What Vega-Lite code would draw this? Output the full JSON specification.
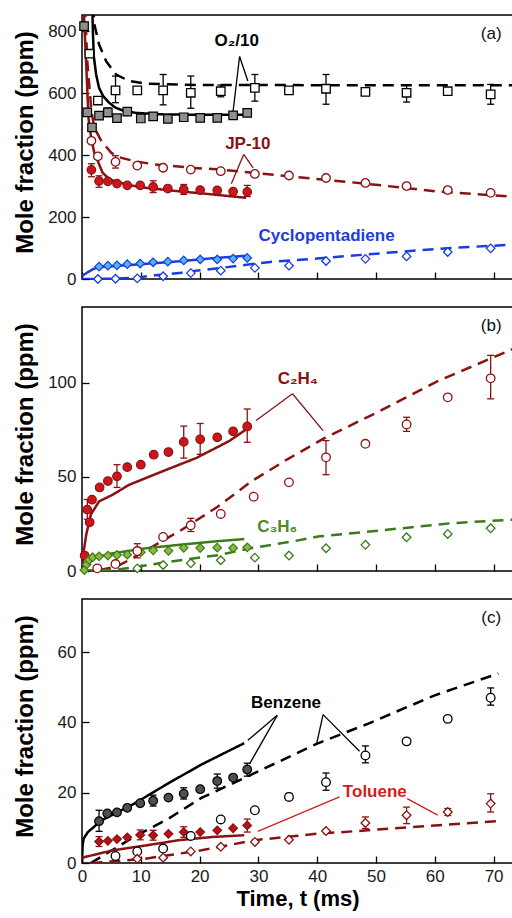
{
"$schema":"https://vega.github.io/schema/vega-lite/v6.json",
"background":"white",
"padding":{"left":12,"top":14,"right":0,"bottom":5},
"spacing":28,
"bounds":"flush",
"datasets":{
"aPts":[
{"sp":"O2","run":"A","t":0.35,"v":816},{"sp":"O2","run":"A","t":0.9,"v":538},{"sp":"O2","run":"A","t":1.7,"v":489},{"sp":"O2","run":"A","t":2.9,"v":527},{"sp":"O2","run":"A","t":4.4,"v":538,"lo":524,"hi":552},{"sp":"O2","run":"A","t":5.95,"v":519},{"sp":"O2","run":"A","t":7.7,"v":540,"lo":528,"hi":552},{"sp":"O2","run":"A","t":10,"v":518},{"sp":"O2","run":"A","t":12.1,"v":525},{"sp":"O2","run":"A","t":14.6,"v":517},{"sp":"O2","run":"A","t":17.3,"v":522},{"sp":"O2","run":"A","t":20.1,"v":520},{"sp":"O2","run":"A","t":23,"v":520},{"sp":"O2","run":"A","t":25.7,"v":528},{"sp":"O2","run":"A","t":28.1,"v":536,"lo":528,"hi":546},
{"sp":"O2","run":"B","t":1.25,"v":727},{"sp":"O2","run":"B","t":2.7,"v":576},{"sp":"O2","run":"B","t":5.7,"v":609,"lo":569,"hi":655},{"sp":"O2","run":"B","t":9.4,"v":609},{"sp":"O2","run":"B","t":13.8,"v":609,"lo":562,"hi":660},{"sp":"O2","run":"B","t":18.5,"v":601,"lo":551,"hi":655},{"sp":"O2","run":"B","t":23.6,"v":606,"lo":588,"hi":626},{"sp":"O2","run":"B","t":29.4,"v":617,"lo":574,"hi":660},{"sp":"O2","run":"B","t":35.2,"v":609},{"sp":"O2","run":"B","t":41.5,"v":614,"lo":564,"hi":660},{"sp":"O2","run":"B","t":48.2,"v":604},{"sp":"O2","run":"B","t":55.2,"v":601,"lo":571,"hi":626},{"sp":"O2","run":"B","t":62.2,"v":606},{"sp":"O2","run":"B","t":69.5,"v":596,"lo":564,"hi":628},
{"sp":"JP10","run":"A","t":1.6,"v":352,"lo":330,"hi":372},{"sp":"JP10","run":"A","t":2.9,"v":316,"lo":296,"hi":333},{"sp":"JP10","run":"A","t":4.4,"v":315},{"sp":"JP10","run":"A","t":5.95,"v":308},{"sp":"JP10","run":"A","t":7.7,"v":302},{"sp":"JP10","run":"A","t":9.9,"v":302},{"sp":"JP10","run":"A","t":12.1,"v":297,"lo":279,"hi":317},{"sp":"JP10","run":"A","t":14.6,"v":292},{"sp":"JP10","run":"A","t":17.3,"v":289,"lo":273,"hi":305},{"sp":"JP10","run":"A","t":20.1,"v":287},{"sp":"JP10","run":"A","t":23,"v":286},{"sp":"JP10","run":"A","t":25.7,"v":282},{"sp":"JP10","run":"A","t":28.1,"v":281,"lo":266,"hi":302},
{"sp":"JP10","run":"B","t":1.6,"v":446},{"sp":"JP10","run":"B","t":2.7,"v":396},{"sp":"JP10","run":"B","t":5.7,"v":378,"lo":358,"hi":398},{"sp":"JP10","run":"B","t":9.4,"v":366},{"sp":"JP10","run":"B","t":13.8,"v":359},{"sp":"JP10","run":"B","t":18.5,"v":353},{"sp":"JP10","run":"B","t":23.6,"v":348},{"sp":"JP10","run":"B","t":29.4,"v":339},{"sp":"JP10","run":"B","t":35.2,"v":334},{"sp":"JP10","run":"B","t":41.5,"v":326},{"sp":"JP10","run":"B","t":48.2,"v":310},{"sp":"JP10","run":"B","t":55.2,"v":300},{"sp":"JP10","run":"B","t":62.2,"v":287,"lo":279,"hi":296},{"sp":"JP10","run":"B","t":69.5,"v":278},
{"sp":"CPD","run":"A","t":2.9,"v":40},{"sp":"CPD","run":"A","t":4.4,"v":43},{"sp":"CPD","run":"A","t":5.95,"v":44},{"sp":"CPD","run":"A","t":7.7,"v":48},{"sp":"CPD","run":"A","t":9.9,"v":50},{"sp":"CPD","run":"A","t":12.1,"v":54},{"sp":"CPD","run":"A","t":14.6,"v":56},{"sp":"CPD","run":"A","t":17.3,"v":60},{"sp":"CPD","run":"A","t":20.1,"v":63},{"sp":"CPD","run":"A","t":23,"v":63},{"sp":"CPD","run":"A","t":25.7,"v":66},{"sp":"CPD","run":"A","t":28.1,"v":68},
{"sp":"CPD","run":"B","t":2.7,"v":0},{"sp":"CPD","run":"B","t":5.7,"v":1},{"sp":"CPD","run":"B","t":9.4,"v":2},{"sp":"CPD","run":"B","t":13.8,"v":9},{"sp":"CPD","run":"B","t":18.5,"v":19},{"sp":"CPD","run":"B","t":23.6,"v":27},{"sp":"CPD","run":"B","t":29.4,"v":36},{"sp":"CPD","run":"B","t":35.2,"v":43},{"sp":"CPD","run":"B","t":41.5,"v":58},{"sp":"CPD","run":"B","t":48.2,"v":65},{"sp":"CPD","run":"B","t":55.2,"v":73},{"sp":"CPD","run":"B","t":62.2,"v":87},{"sp":"CPD","run":"B","t":69.5,"v":99}
],
"aLines":[
{"sp":"O2","run":"A","t":1.75,"v":880},{"sp":"O2","run":"A","t":1.85,"v":800},{"sp":"O2","run":"A","t":2.0,"v":720},{"sp":"O2","run":"A","t":2.4,"v":660},{"sp":"O2","run":"A","t":2.9,"v":617},{"sp":"O2","run":"A","t":3.6,"v":590},{"sp":"O2","run":"A","t":4.6,"v":569},{"sp":"O2","run":"A","t":5.7,"v":553},{"sp":"O2","run":"A","t":6.9,"v":544},{"sp":"O2","run":"A","t":9.2,"v":536},{"sp":"O2","run":"A","t":14,"v":531},{"sp":"O2","run":"A","t":20,"v":530},{"sp":"O2","run":"A","t":28.1,"v":530},
{"sp":"O2","run":"B","t":1.9,"v":880},{"sp":"O2","run":"B","t":2.1,"v":822},{"sp":"O2","run":"B","t":2.9,"v":757},{"sp":"O2","run":"B","t":4.1,"v":703},{"sp":"O2","run":"B","t":5.8,"v":660},{"sp":"O2","run":"B","t":8,"v":639},{"sp":"O2","run":"B","t":10.9,"v":630},{"sp":"O2","run":"B","t":20,"v":626},{"sp":"O2","run":"B","t":73.3,"v":625},
{"sp":"JP10","run":"A","t":0.2,"v":900},{"sp":"JP10","run":"A","t":0.4,"v":820},{"sp":"JP10","run":"A","t":0.7,"v":700},{"sp":"JP10","run":"A","t":1.1,"v":520},{"sp":"JP10","run":"A","t":1.6,"v":450},{"sp":"JP10","run":"A","t":2.1,"v":407},{"sp":"JP10","run":"A","t":2.7,"v":380},{"sp":"JP10","run":"A","t":3.5,"v":343},{"sp":"JP10","run":"A","t":4.5,"v":325},{"sp":"JP10","run":"A","t":5.2,"v":318},{"sp":"JP10","run":"A","t":8,"v":303},{"sp":"JP10","run":"A","t":11,"v":294},{"sp":"JP10","run":"A","t":16.5,"v":283},{"sp":"JP10","run":"A","t":22.2,"v":273},{"sp":"JP10","run":"A","t":27.9,"v":262},
{"sp":"JP10","run":"B","t":0.5,"v":880},{"sp":"JP10","run":"B","t":0.9,"v":703},{"sp":"JP10","run":"B","t":1.6,"v":542},{"sp":"JP10","run":"B","t":2.1,"v":488},{"sp":"JP10","run":"B","t":3.3,"v":445},{"sp":"JP10","run":"B","t":5,"v":407},{"sp":"JP10","run":"B","t":6.7,"v":391},{"sp":"JP10","run":"B","t":9,"v":380},{"sp":"JP10","run":"B","t":12.3,"v":370},{"sp":"JP10","run":"B","t":18,"v":360},{"sp":"JP10","run":"B","t":23.6,"v":353},{"sp":"JP10","run":"B","t":35,"v":332},{"sp":"JP10","run":"B","t":48.6,"v":307},{"sp":"JP10","run":"B","t":60,"v":283},{"sp":"JP10","run":"B","t":73.3,"v":266},
{"sp":"CPD","run":"A","t":0,"v":10},{"sp":"CPD","run":"A","t":1,"v":22},{"sp":"CPD","run":"A","t":2,"v":33},{"sp":"CPD","run":"A","t":2.8,"v":38},{"sp":"CPD","run":"A","t":5.2,"v":41},{"sp":"CPD","run":"A","t":10.9,"v":49},{"sp":"CPD","run":"A","t":16.5,"v":57},{"sp":"CPD","run":"A","t":22.2,"v":67},{"sp":"CPD","run":"A","t":27.9,"v":75},
{"sp":"CPD","run":"B","t":0,"v":0},{"sp":"CPD","run":"B","t":5,"v":1},{"sp":"CPD","run":"B","t":9,"v":4},{"sp":"CPD","run":"B","t":12.4,"v":12},{"sp":"CPD","run":"B","t":16.5,"v":19},{"sp":"CPD","run":"B","t":18,"v":24},{"sp":"CPD","run":"B","t":23.3,"v":35},{"sp":"CPD","run":"B","t":28,"v":46},{"sp":"CPD","run":"B","t":32,"v":55},{"sp":"CPD","run":"B","t":40,"v":66},{"sp":"CPD","run":"B","t":51.5,"v":84},{"sp":"CPD","run":"B","t":57,"v":92},{"sp":"CPD","run":"B","t":62.8,"v":100},{"sp":"CPD","run":"B","t":73.3,"v":111}
],
"bPts":[
{"sp":"C2H4","run":"A","t":0.45,"v":8.2},{"sp":"C2H4","run":"A","t":0.9,"v":32.6,"lo":27.5,"hi":38},{"sp":"C2H4","run":"A","t":1.3,"v":25.9},{"sp":"C2H4","run":"A","t":1.7,"v":37.9},{"sp":"C2H4","run":"A","t":3.0,"v":44.4},{"sp":"C2H4","run":"A","t":4.4,"v":47.8},{"sp":"C2H4","run":"A","t":5.95,"v":50.3,"lo":44.4,"hi":56.5},{"sp":"C2H4","run":"A","t":7.7,"v":55.2},{"sp":"C2H4","run":"A","t":10,"v":56.5},{"sp":"C2H4","run":"A","t":12.2,"v":61.8},{"sp":"C2H4","run":"A","t":14.7,"v":63.2},{"sp":"C2H4","run":"A","t":17.3,"v":68.6,"lo":60,"hi":77},{"sp":"C2H4","run":"A","t":20.1,"v":70,"lo":62,"hi":78.4},{"sp":"C2H4","run":"A","t":23,"v":71},{"sp":"C2H4","run":"A","t":25.7,"v":74.2},{"sp":"C2H4","run":"A","t":28.1,"v":76.8,"lo":68.4,"hi":86.1},
{"sp":"C2H4","run":"B","t":2.6,"v":1.4},{"sp":"C2H4","run":"B","t":5.7,"v":3.7},{"sp":"C2H4","run":"B","t":9.4,"v":10.6,"lo":7,"hi":14.5},{"sp":"C2H4","run":"B","t":13.8,"v":18.1},{"sp":"C2H4","run":"B","t":18.5,"v":24.3,"lo":21,"hi":28},{"sp":"C2H4","run":"B","t":23.6,"v":30.3},{"sp":"C2H4","run":"B","t":29.2,"v":39.5},{"sp":"C2H4","run":"B","t":35.2,"v":47.1},{"sp":"C2H4","run":"B","t":41.5,"v":60.4,"lo":51.2,"hi":69.3},{"sp":"C2H4","run":"B","t":48.2,"v":67.6},{"sp":"C2H4","run":"B","t":55.2,"v":77.9,"lo":74.2,"hi":81.7},{"sp":"C2H4","run":"B","t":62.2,"v":92.3},{"sp":"C2H4","run":"B","t":69.5,"v":102.4,"lo":91.5,"hi":114.6},
{"sp":"C3H6","run":"A","t":0.4,"v":0.5},{"sp":"C3H6","run":"A","t":0.8,"v":3.5},{"sp":"C3H6","run":"A","t":1.2,"v":5.9},{"sp":"C3H6","run":"A","t":1.8,"v":7.3},{"sp":"C3H6","run":"A","t":2.9,"v":7.8},{"sp":"C3H6","run":"A","t":4.4,"v":8.2},{"sp":"C3H6","run":"A","t":5.95,"v":8.5},{"sp":"C3H6","run":"A","t":7.7,"v":8.7},{"sp":"C3H6","run":"A","t":10,"v":10},{"sp":"C3H6","run":"A","t":12.1,"v":11},{"sp":"C3H6","run":"A","t":14.7,"v":10.7},{"sp":"C3H6","run":"A","t":17.3,"v":12.3},{"sp":"C3H6","run":"A","t":20.1,"v":12.2},{"sp":"C3H6","run":"A","t":23,"v":12.4},{"sp":"C3H6","run":"A","t":25.7,"v":12.2},{"sp":"C3H6","run":"A","t":28.1,"v":12.6},
{"sp":"C3H6","run":"B","t":9.4,"v":1.4},{"sp":"C3H6","run":"B","t":13.8,"v":3.2},{"sp":"C3H6","run":"B","t":18.5,"v":4.1},{"sp":"C3H6","run":"B","t":23.6,"v":5.7},{"sp":"C3H6","run":"B","t":29.4,"v":7.1},{"sp":"C3H6","run":"B","t":35.2,"v":8.2},{"sp":"C3H6","run":"B","t":41.5,"v":12.1},{"sp":"C3H6","run":"B","t":48.2,"v":13.9},{"sp":"C3H6","run":"B","t":55.2,"v":17.9},{"sp":"C3H6","run":"B","t":62.2,"v":19.7},{"sp":"C3H6","run":"B","t":69.5,"v":22.7}
],
"bLines":[
{"sp":"C2H4","run":"A","t":0,"v":0},{"sp":"C2H4","run":"A","t":0.2,"v":8.5},{"sp":"C2H4","run":"A","t":0.7,"v":19},{"sp":"C2H4","run":"A","t":1.5,"v":30},{"sp":"C2H4","run":"A","t":2.9,"v":37},{"sp":"C2H4","run":"A","t":5.2,"v":40.5},{"sp":"C2H4","run":"A","t":8,"v":45.8},{"sp":"C2H4","run":"A","t":13.7,"v":53},{"sp":"C2H4","run":"A","t":19.4,"v":60},{"sp":"C2H4","run":"A","t":25,"v":69},{"sp":"C2H4","run":"A","t":27.9,"v":75.2},
{"sp":"C2H4","run":"B","t":0,"v":0},{"sp":"C2H4","run":"B","t":3,"v":0.5},{"sp":"C2H4","run":"B","t":6,"v":2.5},{"sp":"C2H4","run":"B","t":8.7,"v":7},{"sp":"C2H4","run":"B","t":12,"v":13},{"sp":"C2H4","run":"B","t":16.9,"v":21.8},{"sp":"C2H4","run":"B","t":23,"v":34},{"sp":"C2H4","run":"B","t":28.8,"v":47.6},{"sp":"C2H4","run":"B","t":35,"v":59.5},{"sp":"C2H4","run":"B","t":41.3,"v":70.7},{"sp":"C2H4","run":"B","t":50,"v":84},{"sp":"C2H4","run":"B","t":60.5,"v":100.9},{"sp":"C2H4","run":"B","t":73.3,"v":118},
{"sp":"C3H6","run":"A","t":0.1,"v":0.5},{"sp":"C3H6","run":"A","t":0.8,"v":3.5},{"sp":"C3H6","run":"A","t":1.8,"v":6.7},{"sp":"C3H6","run":"A","t":5.2,"v":9.4},{"sp":"C3H6","run":"A","t":10.9,"v":12.1},{"sp":"C3H6","run":"A","t":16.5,"v":13.9},{"sp":"C3H6","run":"A","t":22.2,"v":15.6},{"sp":"C3H6","run":"A","t":27.6,"v":17},
{"sp":"C3H6","run":"B","t":0,"v":0},{"sp":"C3H6","run":"B","t":6,"v":0.8},{"sp":"C3H6","run":"B","t":10,"v":2.5},{"sp":"C3H6","run":"B","t":13.1,"v":4.1},{"sp":"C3H6","run":"B","t":18,"v":6.3},{"sp":"C3H6","run":"B","t":23.3,"v":8.5},{"sp":"C3H6","run":"B","t":26,"v":10.3},{"sp":"C3H6","run":"B","t":29.4,"v":12.5},{"sp":"C3H6","run":"B","t":36,"v":15.8},{"sp":"C3H6","run":"B","t":40.1,"v":18.3},{"sp":"C3H6","run":"B","t":51.5,"v":21.8},{"sp":"C3H6","run":"B","t":62.8,"v":25.4},{"sp":"C3H6","run":"B","t":73.3,"v":27.3}
],
"cPts":[
{"sp":"BZ","run":"A","t":2.9,"v":11.9,"lo":9,"hi":15},{"sp":"BZ","run":"A","t":4.3,"v":14.1},{"sp":"BZ","run":"A","t":5.95,"v":14.4},{"sp":"BZ","run":"A","t":7.7,"v":15.7},{"sp":"BZ","run":"A","t":9.9,"v":17},{"sp":"BZ","run":"A","t":12.1,"v":17.7,"lo":16.2,"hi":19.3},{"sp":"BZ","run":"A","t":14.7,"v":18.6},{"sp":"BZ","run":"A","t":17.3,"v":19.7,"lo":18.2,"hi":21.4},{"sp":"BZ","run":"A","t":20.1,"v":21},{"sp":"BZ","run":"A","t":23,"v":23.3,"lo":21.3,"hi":25.3},{"sp":"BZ","run":"A","t":25.7,"v":24.3},{"sp":"BZ","run":"A","t":28.1,"v":26.6,"lo":24.7,"hi":28.4},
{"sp":"BZ","run":"B","t":5.7,"v":2},{"sp":"BZ","run":"B","t":9.4,"v":3.3},{"sp":"BZ","run":"B","t":13.8,"v":4.1},{"sp":"BZ","run":"B","t":18.5,"v":7.7},{"sp":"BZ","run":"B","t":23.6,"v":12.4},{"sp":"BZ","run":"B","t":29.4,"v":15},{"sp":"BZ","run":"B","t":35.2,"v":18.8,"lo":18,"hi":19.8},{"sp":"BZ","run":"B","t":41.5,"v":23,"lo":20.7,"hi":25.6},{"sp":"BZ","run":"B","t":48.2,"v":30.6,"lo":28.5,"hi":33.3},{"sp":"BZ","run":"B","t":55.2,"v":34.6},{"sp":"BZ","run":"B","t":62.2,"v":41},{"sp":"BZ","run":"B","t":69.5,"v":47,"lo":44.9,"hi":49.8},
{"sp":"TOL","run":"A","t":2.9,"v":6.1,"lo":4.7,"hi":7.5},{"sp":"TOL","run":"A","t":4.4,"v":6.3},{"sp":"TOL","run":"A","t":5.95,"v":6.8},{"sp":"TOL","run":"A","t":7.7,"v":7.3},{"sp":"TOL","run":"A","t":9.9,"v":8,"lo":6.6,"hi":9.4},{"sp":"TOL","run":"A","t":12.1,"v":7.9,"lo":6.5,"hi":9.3},{"sp":"TOL","run":"A","t":14.7,"v":8.3},{"sp":"TOL","run":"A","t":17.3,"v":8.8,"lo":7.3,"hi":10.3},{"sp":"TOL","run":"A","t":20.1,"v":8.8},{"sp":"TOL","run":"A","t":23,"v":9.3},{"sp":"TOL","run":"A","t":25.7,"v":9.9},{"sp":"TOL","run":"A","t":28.1,"v":10.7,"lo":8.8,"hi":12.5},
{"sp":"TOL","run":"B","t":9.4,"v":1.2},{"sp":"TOL","run":"B","t":13.8,"v":1.5},{"sp":"TOL","run":"B","t":18.5,"v":3.3},{"sp":"TOL","run":"B","t":23.6,"v":4.6},{"sp":"TOL","run":"B","t":29.4,"v":6},{"sp":"TOL","run":"B","t":35.2,"v":6.6},{"sp":"TOL","run":"B","t":41.5,"v":9.1},{"sp":"TOL","run":"B","t":48.2,"v":11.4,"lo":9.8,"hi":13.1},{"sp":"TOL","run":"B","t":55.2,"v":13.6,"lo":11.2,"hi":15.9},{"sp":"TOL","run":"B","t":62.2,"v":14.5,"lo":13.5,"hi":15.5},{"sp":"TOL","run":"B","t":69.5,"v":16.9,"lo":14.5,"hi":19.7}
],
"cLines":[
{"sp":"BZ","run":"A","t":0,"v":0},{"sp":"BZ","run":"A","t":0.1,"v":5},{"sp":"BZ","run":"A","t":0.3,"v":7},{"sp":"BZ","run":"A","t":1,"v":8.8},{"sp":"BZ","run":"A","t":3.3,"v":12.1},{"sp":"BZ","run":"A","t":8.9,"v":16.9},{"sp":"BZ","run":"A","t":14.6,"v":22.6},{"sp":"BZ","run":"A","t":20.3,"v":28},{"sp":"BZ","run":"A","t":27.6,"v":34.1},
{"sp":"BZ","run":"B","t":1.5,"v":0},{"sp":"BZ","run":"B","t":4,"v":2.5},{"sp":"BZ","run":"B","t":8.9,"v":7.5},{"sp":"BZ","run":"B","t":14.6,"v":12.5},{"sp":"BZ","run":"B","t":20.3,"v":18.5},{"sp":"BZ","run":"B","t":28,"v":24.5},{"sp":"BZ","run":"B","t":39.9,"v":33.9},{"sp":"BZ","run":"B","t":48.6,"v":39.6},{"sp":"BZ","run":"B","t":60,"v":47.7},{"sp":"BZ","run":"B","t":70.8,"v":53.9},
{"sp":"TOL","run":"A","t":0,"v":1.5},{"sp":"TOL","run":"A","t":5.2,"v":3.6},{"sp":"TOL","run":"A","t":10.9,"v":5},{"sp":"TOL","run":"A","t":16.5,"v":6.5},{"sp":"TOL","run":"A","t":22.2,"v":7.4},{"sp":"TOL","run":"A","t":27.6,"v":7.9},
{"sp":"TOL","run":"B","t":1.6,"v":0},{"sp":"TOL","run":"B","t":10.6,"v":1.2},{"sp":"TOL","run":"B","t":20.3,"v":3.6},{"sp":"TOL","run":"B","t":29.4,"v":6.5},{"sp":"TOL","run":"B","t":39.9,"v":8.3},{"sp":"TOL","run":"B","t":48.6,"v":9.3},{"sp":"TOL","run":"B","t":60,"v":10.7},{"sp":"TOL","run":"B","t":70.8,"v":11.9}
],
"ann":[
{"p":"a","sp":"O2","lab":"O₂/10","t":26.3,"v":768},{"p":"a","sp":"JP10","lab":"JP-10","t":28.2,"v":436},{"p":"a","sp":"CPD","lab":"Cyclopentadiene","t":41.6,"v":138},
{"p":"b","sp":"C2H4","lab":"C₂H₄","t":36.7,"v":102},{"p":"b","sp":"C3H6","lab":"C₃H₆","t":33.2,"v":23.5},
{"p":"c","sp":"BZ","lab":"Benzene","t":34.7,"v":45.6},{"p":"c","sp":"TOL","lab":"Toluene","t":49.8,"v":20.2}
],
"lead":[
{"p":"a","sp":"O2","t":26.8,"v":718,"t2":25.7,"v2":542},{"p":"a","sp":"O2","t":26.8,"v":718,"t2":28.2,"v2":639},
{"p":"a","sp":"JP10","t":27.5,"v":402,"t2":25.4,"v2":307},{"p":"a","sp":"JP10","t":27.5,"v":402,"t2":29.1,"v2":359},
{"p":"b","sp":"C2H4","t":35.8,"v":94.2,"t2":29.6,"v2":80},{"p":"b","sp":"C2H4","t":35.8,"v":94.2,"t2":41,"v2":74.6},
{"p":"c","sp":"BZ","t":33.2,"v":42,"t2":28.2,"v2":34.9},{"p":"c","sp":"BZ","t":33.2,"v":42,"t2":28.5,"v2":28.2},{"p":"c","sp":"BZ","t":41,"v":42.2,"t2":39.9,"v2":33.9},{"p":"c","sp":"BZ","t":41,"v":42.2,"t2":47.2,"v2":31.8},
{"p":"c","sp":"TOL","t":43.8,"v":18.8,"t2":29.9,"v2":9},{"p":"c","sp":"TOL","t":55.3,"v":18.3,"t2":60.5,"v2":13.6}
]
},
"vconcat":[
{"width":431,"height":264,
"encoding":{"x":{"field":"t","type":"quantitative","scale":{"domain":[0,73.3],"nice":false,"zero":false},"axis":{"values":[0,10,20,30,40,50,60,70],"labels":false,"title":null}},
"y":{"field":"v","type":"quantitative","scale":{"domain":[0,852],"nice":false},"axis":{"values":[0,200,400,600,800],"title":"Mole fraction (ppm)"}}},
"layer":[
{"data":{"name":"aLines"},"mark":{"type":"line","strokeWidth":2.5,"clip":true},
"encoding":{
"stroke":{"field":"sp","type":"nominal","scale":{"domain":["O2","JP10","CPD","C2H4","C3H6","BZ","TOL"],"range":["#000000","#8b1212","#1a3ce0","#8b1212","#3c7a1e","#000000","#8b1212"]},"legend":null},
"strokeDash":{"field":"run","type":"nominal","scale":{"domain":["A","B"],"range":[[1,0],[11,7]]},"legend":null}}},
{"data":{"name":"lead"},"transform":[{"filter":"datum.p==='a'"}],"mark":{"type":"rule","strokeWidth":1.3},
"encoding":{"x2":{"field":"t2"},"y2":{"field":"v2"},
"color":{"field":"sp","type":"nominal","scale":{"domain":["O2","JP10","CPD","C2H4","C3H6","BZ","TOL"],"range":["#000000","#8b1212","#1a3ce0","#8b1212","#4c8c2a","#000000","#d41c1c"]},"legend":null}}},
{"data":{"name":"aPts"},"transform":[{"filter":"isValid(datum.lo)"}],"mark":{"type":"rule","strokeWidth":1.3},
"encoding":{"y":{"field":"lo","type":"quantitative","scale":{"domain":[0,852],"nice":false},"axis":{"values":[0,200,400,600,800],"title":"Mole fraction (ppm)"}},"y2":{"field":"hi"},
"stroke":{"field":"sp","type":"nominal","scale":{"domain":["O2","JP10","CPD","C2H4","C3H6","BZ","TOL"],"range":["#000000","#8b1212","#1a3ce0","#8b1212","#3c7a1e","#000000","#8b1212"]},"legend":null}}},
{"data":{"name":"aPts"},"transform":[{"filter":"isValid(datum.lo)"}],"mark":{"type":"point","shape":"stroke","filled":false,"size":49,"strokeWidth":1.3,"opacity":1},
"encoding":{"y":{"field":"lo","type":"quantitative","scale":{"domain":[0,852],"nice":false},"axis":{"values":[0,200,400,600,800],"title":"Mole fraction (ppm)"}},
"stroke":{"field":"sp","type":"nominal","scale":{"domain":["O2","JP10","CPD","C2H4","C3H6","BZ","TOL"],"range":["#000000","#8b1212","#1a3ce0","#8b1212","#3c7a1e","#000000","#8b1212"]},"legend":null}}},
{"data":{"name":"aPts"},"transform":[{"filter":"isValid(datum.hi)"}],"mark":{"type":"point","shape":"stroke","filled":false,"size":49,"strokeWidth":1.3,"opacity":1},
"encoding":{"y":{"field":"hi","type":"quantitative","scale":{"domain":[0,852],"nice":false},"axis":{"values":[0,200,400,600,800],"title":"Mole fraction (ppm)"}},
"stroke":{"field":"sp","type":"nominal","scale":{"domain":["O2","JP10","CPD","C2H4","C3H6","BZ","TOL"],"range":["#000000","#8b1212","#1a3ce0","#8b1212","#3c7a1e","#000000","#8b1212"]},"legend":null}}},
{"data":{"name":"aPts"},"transform":[{"filter":"datum.run==='A'"}],"mark":{"type":"point","filled":true,"strokeWidth":1.2,"opacity":1},
"encoding":{
"shape":{"field":"sp","type":"nominal","scale":{"domain":["O2","JP10","CPD","C2H4","C3H6","BZ","TOL"],"range":["square","circle","diamond","circle","diamond","circle","diamond"]},"legend":null},
"size":{"field":"sp","type":"nominal","scale":{"domain":["O2","JP10","CPD","C2H4","C3H6","BZ","TOL"],"range":[72,75,100,75,100,75,100]},"legend":null},
"fill":{"field":"sp","type":"nominal","scale":{"domain":["O2","JP10","CPD","C2H4","C3H6","BZ","TOL"],"range":["#8f8f8f","#cc161c","#4db6f0","#cc161c","#8fb93e","#4f4f4f","#b70f1c"]},"legend":null},
"stroke":{"field":"sp","type":"nominal","scale":{"domain":["O2","JP10","CPD","C2H4","C3H6","BZ","TOL"],"range":["#000000","#8b1212","#1a3ce0","#8b1212","#3c7a1e","#000000","#8b1212"]},"legend":null}}},
{"data":{"name":"aPts"},"transform":[{"filter":"datum.run==='B'"}],"mark":{"type":"point","filled":true,"strokeWidth":1.3,"opacity":1},
"encoding":{
"shape":{"field":"sp","type":"nominal","scale":{"domain":["O2","JP10","CPD","C2H4","C3H6","BZ","TOL"],"range":["square","circle","diamond","circle","diamond","circle","diamond"]},"legend":null},
"size":{"field":"sp","type":"nominal","scale":{"domain":["O2","JP10","CPD","C2H4","C3H6","BZ","TOL"],"range":[72,75,100,75,100,75,100]},"legend":null},
"fill":{"value":"#ffffff"},
"stroke":{"field":"sp","type":"nominal","scale":{"domain":["O2","JP10","CPD","C2H4","C3H6","BZ","TOL"],"range":["#000000","#8b1212","#1a3ce0","#8b1212","#3c7a1e","#000000","#8b1212"]},"legend":null}}},
{"data":{"name":"ann"},"transform":[{"filter":"datum.p==='a'"}],"mark":{"type":"text","fontSize":17,"fontWeight":"bold","align":"center","baseline":"middle"},
"encoding":{"text":{"field":"lab"},
"color":{"field":"sp","type":"nominal","scale":{"domain":["O2","JP10","CPD","C2H4","C3H6","BZ","TOL"],"range":["#000000","#8b1212","#1a3ce0","#8b1212","#4c8c2a","#000000","#d41c1c"]},"legend":null}}},
{"data":{"values":[{"t":69.6,"v":790,"txt":"(a)"}]},"mark":{"type":"text","fontSize":17,"color":"#111111","align":"center","baseline":"middle"},
"encoding":{"text":{"field":"txt"}}}
]},
{"width":431,"height":264,
"encoding":{"x":{"field":"t","type":"quantitative","scale":{"domain":[0,73.3],"nice":false,"zero":false},"axis":{"values":[0,10,20,30,40,50,60,70],"labels":false,"title":null}},
"y":{"field":"v","type":"quantitative","scale":{"domain":[0,140.3],"nice":false},"axis":{"values":[0,50,100],"title":"Mole fraction (ppm)"}}},
"layer":[
{"data":{"name":"bLines"},"mark":{"type":"line","strokeWidth":2.5,"clip":true},
"encoding":{
"stroke":{"field":"sp","type":"nominal","scale":{"domain":["O2","JP10","CPD","C2H4","C3H6","BZ","TOL"],"range":["#000000","#8b1212","#1a3ce0","#8b1212","#3c7a1e","#000000","#8b1212"]},"legend":null},
"strokeDash":{"field":"run","type":"nominal","scale":{"domain":["A","B"],"range":[[1,0],[11,7]]},"legend":null}}},
{"data":{"name":"lead"},"transform":[{"filter":"datum.p==='b'"}],"mark":{"type":"rule","strokeWidth":1.3},
"encoding":{"x2":{"field":"t2"},"y2":{"field":"v2"},
"color":{"field":"sp","type":"nominal","scale":{"domain":["O2","JP10","CPD","C2H4","C3H6","BZ","TOL"],"range":["#000000","#8b1212","#1a3ce0","#8b1212","#4c8c2a","#000000","#d41c1c"]},"legend":null}}},
{"data":{"name":"bPts"},"transform":[{"filter":"isValid(datum.lo)"}],"mark":{"type":"rule","strokeWidth":1.3},
"encoding":{"y":{"field":"lo","type":"quantitative","scale":{"domain":[0,140.3],"nice":false},"axis":{"values":[0,50,100],"title":"Mole fraction (ppm)"}},"y2":{"field":"hi"},
"stroke":{"field":"sp","type":"nominal","scale":{"domain":["O2","JP10","CPD","C2H4","C3H6","BZ","TOL"],"range":["#000000","#8b1212","#1a3ce0","#8b1212","#3c7a1e","#000000","#8b1212"]},"legend":null}}},
{"data":{"name":"bPts"},"transform":[{"filter":"isValid(datum.lo)"}],"mark":{"type":"point","shape":"stroke","filled":false,"size":49,"strokeWidth":1.3,"opacity":1},
"encoding":{"y":{"field":"lo","type":"quantitative","scale":{"domain":[0,140.3],"nice":false},"axis":{"values":[0,50,100],"title":"Mole fraction (ppm)"}},
"stroke":{"field":"sp","type":"nominal","scale":{"domain":["O2","JP10","CPD","C2H4","C3H6","BZ","TOL"],"range":["#000000","#8b1212","#1a3ce0","#8b1212","#3c7a1e","#000000","#8b1212"]},"legend":null}}},
{"data":{"name":"bPts"},"transform":[{"filter":"isValid(datum.hi)"}],"mark":{"type":"point","shape":"stroke","filled":false,"size":49,"strokeWidth":1.3,"opacity":1},
"encoding":{"y":{"field":"hi","type":"quantitative","scale":{"domain":[0,140.3],"nice":false},"axis":{"values":[0,50,100],"title":"Mole fraction (ppm)"}},
"stroke":{"field":"sp","type":"nominal","scale":{"domain":["O2","JP10","CPD","C2H4","C3H6","BZ","TOL"],"range":["#000000","#8b1212","#1a3ce0","#8b1212","#3c7a1e","#000000","#8b1212"]},"legend":null}}},
{"data":{"name":"bPts"},"transform":[{"filter":"datum.run==='A'"}],"mark":{"type":"point","filled":true,"strokeWidth":1.2,"opacity":1},
"encoding":{
"shape":{"field":"sp","type":"nominal","scale":{"domain":["O2","JP10","CPD","C2H4","C3H6","BZ","TOL"],"range":["square","circle","diamond","circle","diamond","circle","diamond"]},"legend":null},
"size":{"field":"sp","type":"nominal","scale":{"domain":["O2","JP10","CPD","C2H4","C3H6","BZ","TOL"],"range":[72,75,100,75,100,75,100]},"legend":null},
"fill":{"field":"sp","type":"nominal","scale":{"domain":["O2","JP10","CPD","C2H4","C3H6","BZ","TOL"],"range":["#8f8f8f","#cc161c","#4db6f0","#cc161c","#8fb93e","#4f4f4f","#b70f1c"]},"legend":null},
"stroke":{"field":"sp","type":"nominal","scale":{"domain":["O2","JP10","CPD","C2H4","C3H6","BZ","TOL"],"range":["#000000","#8b1212","#1a3ce0","#8b1212","#3c7a1e","#000000","#8b1212"]},"legend":null}}},
{"data":{"name":"bPts"},"transform":[{"filter":"datum.run==='B'"}],"mark":{"type":"point","filled":true,"strokeWidth":1.3,"opacity":1},
"encoding":{
"shape":{"field":"sp","type":"nominal","scale":{"domain":["O2","JP10","CPD","C2H4","C3H6","BZ","TOL"],"range":["square","circle","diamond","circle","diamond","circle","diamond"]},"legend":null},
"size":{"field":"sp","type":"nominal","scale":{"domain":["O2","JP10","CPD","C2H4","C3H6","BZ","TOL"],"range":[72,75,100,75,100,75,100]},"legend":null},
"fill":{"value":"#ffffff"},
"stroke":{"field":"sp","type":"nominal","scale":{"domain":["O2","JP10","CPD","C2H4","C3H6","BZ","TOL"],"range":["#000000","#8b1212","#1a3ce0","#8b1212","#3c7a1e","#000000","#8b1212"]},"legend":null}}},
{"data":{"name":"ann"},"transform":[{"filter":"datum.p==='b'"}],"mark":{"type":"text","fontSize":17,"fontWeight":"bold","align":"center","baseline":"middle"},
"encoding":{"text":{"field":"lab"},
"color":{"field":"sp","type":"nominal","scale":{"domain":["O2","JP10","CPD","C2H4","C3H6","BZ","TOL"],"range":["#000000","#8b1212","#1a3ce0","#8b1212","#4c8c2a","#000000","#d41c1c"]},"legend":null}}},
{"data":{"values":[{"t":69.6,"v":130.2,"txt":"(b)"}]},"mark":{"type":"text","fontSize":17,"color":"#111111","align":"center","baseline":"middle"},
"encoding":{"text":{"field":"txt"}}}
]},
{"width":431,"height":264,
"encoding":{"x":{"field":"t","type":"quantitative","scale":{"domain":[0,73.3],"nice":false,"zero":false},"axis":{"values":[0,10,20,30,40,50,60,70],"title":"Time, t (ms)"}},
"y":{"field":"v","type":"quantitative","scale":{"domain":[0,75.1],"nice":false},"axis":{"values":[0,20,40,60],"title":"Mole fraction (ppm)"}}},
"layer":[
{"data":{"name":"cLines"},"mark":{"type":"line","strokeWidth":2.5,"clip":true},
"encoding":{
"stroke":{"field":"sp","type":"nominal","scale":{"domain":["O2","JP10","CPD","C2H4","C3H6","BZ","TOL"],"range":["#000000","#8b1212","#1a3ce0","#8b1212","#3c7a1e","#000000","#8b1212"]},"legend":null},
"strokeDash":{"field":"run","type":"nominal","scale":{"domain":["A","B"],"range":[[1,0],[11,7]]},"legend":null}}},
{"data":{"name":"lead"},"transform":[{"filter":"datum.p==='c'"}],"mark":{"type":"rule","strokeWidth":1.3},
"encoding":{"x2":{"field":"t2"},"y2":{"field":"v2"},
"color":{"field":"sp","type":"nominal","scale":{"domain":["O2","JP10","CPD","C2H4","C3H6","BZ","TOL"],"range":["#000000","#8b1212","#1a3ce0","#8b1212","#4c8c2a","#000000","#d41c1c"]},"legend":null}}},
{"data":{"name":"cPts"},"transform":[{"filter":"isValid(datum.lo)"}],"mark":{"type":"rule","strokeWidth":1.3},
"encoding":{"y":{"field":"lo","type":"quantitative","scale":{"domain":[0,75.1],"nice":false},"axis":{"values":[0,20,40,60],"title":"Mole fraction (ppm)"}},"y2":{"field":"hi"},
"stroke":{"field":"sp","type":"nominal","scale":{"domain":["O2","JP10","CPD","C2H4","C3H6","BZ","TOL"],"range":["#000000","#8b1212","#1a3ce0","#8b1212","#3c7a1e","#000000","#8b1212"]},"legend":null}}},
{"data":{"name":"cPts"},"transform":[{"filter":"isValid(datum.lo)"}],"mark":{"type":"point","shape":"stroke","filled":false,"size":49,"strokeWidth":1.3,"opacity":1},
"encoding":{"y":{"field":"lo","type":"quantitative","scale":{"domain":[0,75.1],"nice":false},"axis":{"values":[0,20,40,60],"title":"Mole fraction (ppm)"}},
"stroke":{"field":"sp","type":"nominal","scale":{"domain":["O2","JP10","CPD","C2H4","C3H6","BZ","TOL"],"range":["#000000","#8b1212","#1a3ce0","#8b1212","#3c7a1e","#000000","#8b1212"]},"legend":null}}},
{"data":{"name":"cPts"},"transform":[{"filter":"isValid(datum.hi)"}],"mark":{"type":"point","shape":"stroke","filled":false,"size":49,"strokeWidth":1.3,"opacity":1},
"encoding":{"y":{"field":"hi","type":"quantitative","scale":{"domain":[0,75.1],"nice":false},"axis":{"values":[0,20,40,60],"title":"Mole fraction (ppm)"}},
"stroke":{"field":"sp","type":"nominal","scale":{"domain":["O2","JP10","CPD","C2H4","C3H6","BZ","TOL"],"range":["#000000","#8b1212","#1a3ce0","#8b1212","#3c7a1e","#000000","#8b1212"]},"legend":null}}},
{"data":{"name":"cPts"},"transform":[{"filter":"datum.run==='A'"}],"mark":{"type":"point","filled":true,"strokeWidth":1.2,"opacity":1},
"encoding":{
"shape":{"field":"sp","type":"nominal","scale":{"domain":["O2","JP10","CPD","C2H4","C3H6","BZ","TOL"],"range":["square","circle","diamond","circle","diamond","circle","diamond"]},"legend":null},
"size":{"field":"sp","type":"nominal","scale":{"domain":["O2","JP10","CPD","C2H4","C3H6","BZ","TOL"],"range":[72,75,100,75,100,75,100]},"legend":null},
"fill":{"field":"sp","type":"nominal","scale":{"domain":["O2","JP10","CPD","C2H4","C3H6","BZ","TOL"],"range":["#8f8f8f","#cc161c","#4db6f0","#cc161c","#8fb93e","#4f4f4f","#b70f1c"]},"legend":null},
"stroke":{"field":"sp","type":"nominal","scale":{"domain":["O2","JP10","CPD","C2H4","C3H6","BZ","TOL"],"range":["#000000","#8b1212","#1a3ce0","#8b1212","#3c7a1e","#000000","#8b1212"]},"legend":null}}},
{"data":{"name":"cPts"},"transform":[{"filter":"datum.run==='B'"}],"mark":{"type":"point","filled":true,"strokeWidth":1.3,"opacity":1},
"encoding":{
"shape":{"field":"sp","type":"nominal","scale":{"domain":["O2","JP10","CPD","C2H4","C3H6","BZ","TOL"],"range":["square","circle","diamond","circle","diamond","circle","diamond"]},"legend":null},
"size":{"field":"sp","type":"nominal","scale":{"domain":["O2","JP10","CPD","C2H4","C3H6","BZ","TOL"],"range":[72,75,100,75,100,75,100]},"legend":null},
"fill":{"value":"#ffffff"},
"stroke":{"field":"sp","type":"nominal","scale":{"domain":["O2","JP10","CPD","C2H4","C3H6","BZ","TOL"],"range":["#000000","#8b1212","#1a3ce0","#8b1212","#3c7a1e","#000000","#8b1212"]},"legend":null}}},
{"data":{"name":"ann"},"transform":[{"filter":"datum.p==='c'"}],"mark":{"type":"text","fontSize":17,"fontWeight":"bold","align":"center","baseline":"middle"},
"encoding":{"text":{"field":"lab"},
"color":{"field":"sp","type":"nominal","scale":{"domain":["O2","JP10","CPD","C2H4","C3H6","BZ","TOL"],"range":["#000000","#8b1212","#1a3ce0","#8b1212","#4c8c2a","#000000","#d41c1c"]},"legend":null}}},
{"data":{"values":[{"t":69.6,"v":69.7,"txt":"(c)"}]},"mark":{"type":"text","fontSize":17,"color":"#111111","align":"center","baseline":"middle"},
"encoding":{"text":{"field":"txt"}}}
]}
],
"config":{
"font":"Liberation Sans",
"view":{"stroke":"#000000","strokeWidth":1.5},
"axis":{"domain":false,"grid":false,"tickSize":-7,"tickWidth":1.3,"tickColor":"#000000","labelFontSize":17,"labelColor":"#1a1a1a","labelFlush":false,"labelOverlap":false,"titleFontWeight":"bold","titleColor":"#000000"},
"axisY":{"labelPadding":13,"titleFontSize":24,"titleX":-50,"titleY":127,"titleBaseline":"alphabetic","titleAlign":"center","titleAngle":-90},
"axisX":{"labelPadding":12,"titleFontSize":22}
}
}
